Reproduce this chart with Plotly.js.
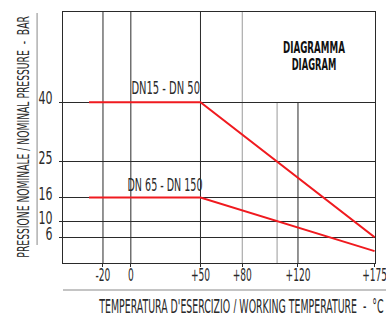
<!DOCTYPE html>
<html>
<head>
<meta charset="utf-8">
<script src="https://cdn.plot.ly/plotly-3.0.1.min.js"></script>
<style>
html,body{margin:0;padding:0;background:#fff;}
#chart{width:386px;height:313px;}
</style>
</head>
<body>
<div id="chart"></div>
<script>
// ---- data ----
const temperatures = [-30, 50, 175];          // °C
const pressureDN15_50 = [40, 40, 6];          // bar
const pressureDN65_150 = [16, 16, 2.5];       // bar
const seriesNames = ['DN15 - DN 50', 'DN 65 - DN 150'];
const xTickVals = [-20, 0, 50, 80, 120, 175];
const xTickText = ['-20', '0', '+50', '+80', '+120', '+175'];
const yTickVals = [6, 10, 16, 25, 40];
const yTickText = ['6', '10', '16', '25', '40'];

const FONT = '"Liberation Sans Narrow", "Arial Narrow", "DejaVu Sans Condensed", sans-serif';
const RED = '#f01a1f';
const DARK = '#2a2a2a';
const GRAY = '#9a9a9a';
const xRange = [-48.7, 175.3];
const yRange = [-0.5, 62.7];

const traces = [
  {x: temperatures, y: pressureDN15_50, name: seriesNames[0], mode: 'lines',
   line: {color: RED, width: 2}, hoverinfo: 'skip'},
  {x: temperatures, y: pressureDN65_150, name: seriesNames[1], mode: 'lines',
   line: {color: RED, width: 2}, hoverinfo: 'skip'}
];

function vline(x, color, y1ref, y1) {
  return {type: 'line', xref: 'x', yref: y1ref, x0: x, x1: x,
          y0: y1ref === 'paper' ? 0 : yRange[0], y1: y1,
          line: {color: color, width: 1}, layer: 'below'};
}

const layout = {
  width: 386, height: 313,
  margin: {l: 63, r: 11, t: 12, b: 50},
  paper_bgcolor: '#fff', plot_bgcolor: '#fff',
  showlegend: false,
  font: {family: FONT, color: DARK},
  xaxis: {
    range: xRange, fixedrange: true,
    tickmode: 'array', tickvals: xTickVals, ticktext: xTickText,
    ticks: 'outside', ticklen: 3, tickcolor: DARK, tickwidth: 1,
    tickfont: {family: FONT, size: 18, color: DARK},
    ticklabelstandoff: -8, ticklabeloverflow: 'allow',
    showgrid: false, zeroline: false,
    showline: true, linecolor: DARK, linewidth: 1, mirror: true
  },
  yaxis: {
    range: yRange, fixedrange: true,
    tickmode: 'array', tickvals: yTickVals, ticktext: yTickText,
    ticks: 'outside', ticklen: 3, tickcolor: DARK, tickwidth: 1,
    tickfont: {family: FONT, size: 18, color: DARK},
    ticklabelshift: -4, ticklabelstandoff: 3,
    showgrid: true, gridcolor: DARK, gridwidth: 1, zeroline: false,
    showline: true, linecolor: DARK, linewidth: 1, mirror: true
  },
  shapes: [
    vline(-20, DARK, 'paper', 1),
    vline(0, DARK, 'paper', 1),
    vline(50, DARK, 'paper', 1),
    vline(80, GRAY, 'paper', 1),
    vline(105, GRAY, 'y', 40),
    vline(120, DARK, 'y', 40),
    // decorative separators next to the axis titles
    {type: 'line', xref: 'paper', yref: 'paper', x0: -0.083, x1: -0.083, y0: 0.072, y1: 0.996,
     line: {color: '#b0b0b0', width: 1.5}},
    {type: 'line', xref: 'paper', yref: 'paper', x0: 0, x1: 1.04, y0: -0.108, y1: -0.108,
     line: {color: '#b0b0b0', width: 1.5}}
  ],
  annotations: [
    {text: seriesNames[0], xref: 'x', yref: 'y', x: 25, y: 43.5, showarrow: false,
     xanchor: 'center', yanchor: 'middle', font: {family: FONT, size: 17, color: DARK}},
    {text: seriesNames[1], xref: 'x', yref: 'y', x: 24.4, y: 19.2, showarrow: false,
     xanchor: 'center', yanchor: 'middle', font: {family: FONT, size: 17, color: DARK}},
    {text: '<b>DIAGRAMMA</b>', xref: 'paper', yref: 'paper', x: 0.803, y: 0.855, showarrow: false,
     xanchor: 'center', yanchor: 'middle', font: {family: FONT, size: 15, color: '#111'}},
    {text: '<b>DIAGRAM</b>', xref: 'paper', yref: 'paper', x: 0.803, y: 0.789, showarrow: false,
     xanchor: 'center', yanchor: 'middle', font: {family: FONT, size: 15, color: '#111'}},
    {text: 'PRESSIONE NOMINALE / NOMINAL PRESSURE \u00a0-\u00a0 BAR', xref: 'paper', yref: 'paper',
     x: -0.128, y: 0.50, textangle: -90, showarrow: false, xanchor: 'center', yanchor: 'middle',
     font: {family: FONT, size: 16, color: DARK}},
    {text: 'TEMPERATURA D\'ESERCIZIO / WORKING TEMPERATURE \u00a0-\u00a0 °C', xref: 'paper', yref: 'paper',
     x: 0.572, y: -0.172, showarrow: false, xanchor: 'center', yanchor: 'middle',
     font: {family: FONT, size: 19, color: DARK}}
  ]
};

// horizontal condensing ratios so the text matches the very narrow lettering
const annRatios = [0.65, 0.625, 0.645, 0.62, 0.64, 0.55];
function condense(gd) {
  const fit = (t, k) => {
    t.removeAttribute('textLength');
    const w = t.getComputedTextLength();
    if (w > 0) {
      t.setAttribute('textLength', (w * k).toFixed(2));
      t.setAttribute('lengthAdjust', 'spacingAndGlyphs');
    }
  };
  gd.querySelectorAll('.xtick text').forEach(t => fit(t, 0.56));
  gd.querySelectorAll('.ytick text').forEach(t => fit(t, 0.68));
  annRatios.forEach((k, i) => {
    gd.querySelectorAll('.annotation[data-index="' + i + '"] text').forEach(t => fit(t, k));
  });
}

const gd = document.getElementById('chart');
Plotly.newPlot(gd, traces, layout, {displayModeBar: false, staticPlot: true}).then(() => {
  condense(gd);
  gd.on('plotly_afterplot', () => condense(gd));
});
</script>
</body>
</html>
